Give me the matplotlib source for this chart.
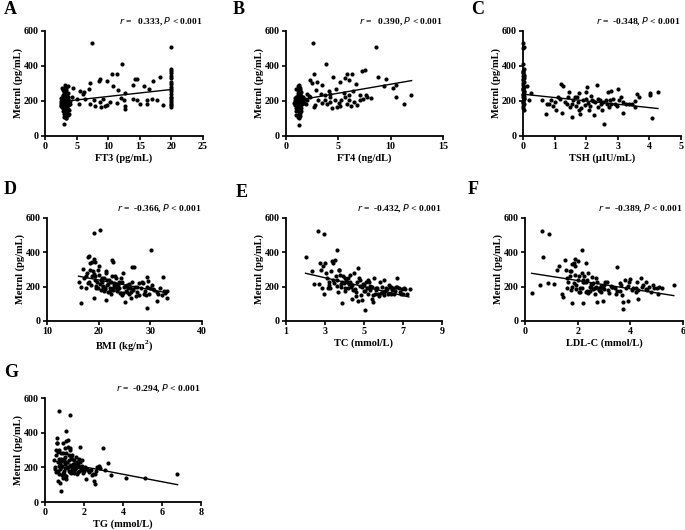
import matplotlib
matplotlib.use("Agg")
import matplotlib.pyplot as plt
import numpy as np

# ---------------- data ----------------
ft3 = [2.5,2.6,2.7,2.8,2.9,3.0,3.1,3.2,3.3,3.4,
       3.5,3.6,2.6,2.7,2.8,2.9,3.0,3.1,3.2,3.3,
       3.4,3.5,3.6,3.7,2.9,3.0,3.1,3.2,3.3,3.4,
       3.5,3.6,3.7,3.8,2.7,2.8,3.0,3.1,3.2,3.3,
       3.4,3.5,3.6,3.8,3.9,3.0,3.2,3.4,3.1,3.3,
       3.5,3.7,3.05,2.9,3.6,3.2,2.6,3.4,3.0,3.3,
       2.5,2.8,3.1,3.5,3.7,2.9,3.2,3.4,3.6,3.0,
       4.2,4.5,5.5,6.2,7.0,7.1,7.5,8.5,8.7,9.8,
       10.6,11.4,12.2,14.3,14.5,17.1,18.2,11.5,12.7,14.0,
       15.6,16.5,10.7,17.7,18.7,16.1,14.6,15.0,13.9,12.5,
       12.7,12.7,12.0,10.3,9.8,8.7,8.8,9.2,7.7,7.1,
       5.4,6.3,7.9,11.4,16.1,16.9,4.0,5.0,6.0,9.5,
       20,20,20,20,20,20,20,20,20,20,20,20,20,20,20,20,20,20,20]
metrnl_a = [190,175,275,205,160,250,185,290,215,140,
            230,120,200,185,230,265,195,170,240,180,
            205,160,285,195,215,150,225,130,260,100,
            210,175,220,150,165,145,110,200,190,155,
            245,185,200,125,180,270,210,275,235,195,
            120,245,71,180,155,165,215,230,220,105,
            170,190,255,140,175,235,280,190,205,125,
            224,277,258,252,266,300,529,315,323,317,
            354,354,411,323,327,317,336,264,245,289,
            285,269,285,206,176,203,204,182,212,208,
            170,157,216,195,176,195,166,214,204,185,
            185,214,170,189,182,212,200,210,240,170,
            506,380,370,360,345,330,310,295,280,270,255,240,225,215,205,195,185,175,165]

ft4 = [0.8,0.9,1.0,1.1,1.2,1.3,1.4,1.5,1.0,1.1,
       1.2,1.3,1.4,0.9,1.0,1.1,1.2,1.3,1.4,1.5,
       1.6,1.0,1.1,1.2,1.3,1.2,1.1,1.0,1.3,1.4,
       1.2,1.1,1.0,0.9,1.2,1.3,1.4,1.5,1.1,1.2,
       1.3,1.0,1.2,1.1,1.4,1.3,1.2,1.0,1.1,1.5,
       1.3,1.2,1.25,1.1,1.0,1.3,1.4,1.2,1.6,1.7,
       2.57,8.6,3.84,5.8,2.63,6.3,7.3,7.5,8.75,9.6,
       4.5,6.0,5.6,5.2,2.25,2.5,3.0,2.9,3.4,4.1,
       4.2,4.8,5.5,6.4,6.7,7.1,7.6,8.1,10.2,10.5,
       10.5,11.9,11.3,9.4,2.8,3.1,3.4,3.7,3.9,4.2,
       4.4,4.7,4.85,5.1,5.3,5.6,5.8,6.0,6.2,6.5,
       6.75,7.1,7.4,7.7,4.2,3.7,3.3,2.7,5.2,6.05,
       2.3,2.05,1.9,2.0,1.8,2.2]
metrnl_b = [190,200,210,180,220,240,195,205,270,285,
            290,260,230,175,160,150,140,165,185,215,
            200,120,110,100,130,250,245,225,275,205,
            195,185,175,215,155,170,145,180,235,265,
            225,195,205,215,250,115,125,140,260,190,
            185,170,65,230,210,200,160,280,220,190,
            529,506,411,354,354,357,373,376,338,323,
            338,319,334,310,319,300,310,262,290,258,
            239,266,243,258,296,233,233,218,277,290,
            224,237,180,285,176,204,189,208,185,195,
            162,208,166,189,204,220,182,204,170,195,
            176,204,212,220,220,233,239,166,170,237,
            224,204,180,240,210,230]

tsh = [0.0,0.02,0.01,0.0,0.03,0.01,0.0,0.02,0.01,0.03,
       0.0,0.02,0.01,0.0,0.03,0.01,0.0,0.02,0.01,0.03,
       0.0,0.02,0.01,0.0,0.03,0.01,0.0,0.02,0.01,0.03,
       0.0,0.02,0.01,0.0,0.03,0.01,
       0.6,0.74,0.77,0.9,1.0,1.06,1.1,1.17,1.22,1.2,
       1.25,1.32,1.38,1.43,1.48,1.54,1.59,1.64,1.67,1.73,
       1.77,1.8,1.85,1.9,1.96,2.0,2.04,2.09,2.15,2.19,
       2.26,2.28,2.33,2.38,2.44,2.49,2.54,2.57,2.62,2.68,
       2.72,2.8,2.86,2.91,3.0,3.04,3.1,3.15,3.18,3.25,
       3.34,3.44,3.53,3.6,3.68,4.03,4.03,4.08,4.27,0.82,
       0.95,1.46,1.56,1.71,1.78,1.98,2.07,2.12,2.22,2.36,
       2.46,2.65,2.75,2.96,3.55,2.8,0.14,0.18,0.24]
metrnl_c = [530,510,500,410,380,370,360,350,340,330,
            320,310,300,290,280,270,260,250,240,230,
            220,210,200,190,180,170,160,150,275,255,
            235,215,195,325,345,365,
            208,124,185,204,195,147,224,214,132,296,
            285,195,182,224,166,109,204,220,170,193,
            243,128,162,204,176,214,281,147,227,204,
            118,195,289,166,208,147,195,71,208,250,
            166,258,214,185,271,204,224,132,195,182,
            182,182,166,239,224,233,247,105,250,185,
            170,250,185,220,147,252,189,170,199,212,
            182,185,204,170,201,185,285,204,243]

bmi = [19.1,20.3,30.2,18.0,18.2,19.0,19.3,22.5,22.8,17.0,
       26.4,26.8,32.5,29.3,16.6,19.1,21.4,25.1,29.3,31.2,
       33.3,16.2,16.5,17.2,17.5,17.8,18.1,18.3,18.5,18.7,
       18.9,19.2,19.4,19.6,19.8,20.0,20.2,20.4,20.6,20.8,
       21.0,21.2,21.4,21.6,21.8,22.0,22.2,22.4,22.6,22.8,
       23.0,23.2,23.4,23.6,23.8,24.0,24.3,24.6,24.9,25.2,
       25.5,25.8,26.1,26.4,26.7,27.0,27.4,27.8,28.2,28.6,
       29.0,29.4,29.8,30.3,30.8,31.3,31.8,32.3,32.8,33.2,
       17.6,18.4,19.0,19.5,20.1,20.7,21.1,21.5,21.9,22.3,
       22.7,23.1,23.5,23.9,24.4,24.8,25.3,25.9,26.5,27.2,
       27.9,28.8,29.6,30.5,31.5,32.6,18.8,19.9,20.9,21.7,
       22.5,23.3,24.1,24.7,25.6,26.3,27.5,28.4,29.2,30.0,
       17.9,19.3,20.5,21.3,22.1,22.9,23.7,24.5,25.4,26.2]
metrnl_d = [513,532,416,370,381,364,344,354,344,304,
            315,312,257,254,106,132,122,108,74,118,
            132,230,200,250,195,280,230,340,210,260,
            290,240,205,225,195,270,215,180,230,200,
            250,185,280,210,170,240,195,230,265,180,
            220,200,250,175,210,190,165,230,200,175,
            210,160,195,225,180,200,170,150,190,220,
            175,200,160,210,180,170,195,150,165,175,
            265,300,275,190,320,250,175,290,215,160,
            195,265,180,230,250,165,205,215,185,145,
            220,160,235,185,160,175,345,300,205,240,
            185,215,165,280,190,170,200,230,150,190,
            220,260,240,195,175,210,190,150,170,135]

tc = [2.65,2.96,3.63,2.02,2.31,2.45,2.7,2.95,3.85,5.04,
      5.47,4.7,6.7,7.35,7.2,2.9,3.1,3.3,3.5,3.7,
      3.9,4.1,4.3,4.5,4.7,4.9,5.1,5.3,5.5,5.7,
      5.9,6.1,6.3,6.5,6.7,6.9,7.1,3.0,3.2,3.4,
      3.6,3.8,4.0,4.2,4.4,4.6,4.8,5.0,5.2,5.4,
      5.6,5.8,6.0,6.2,6.4,6.6,6.8,7.0,2.8,3.05,
      3.25,3.45,3.65,3.85,4.05,4.25,4.45,4.65,4.85,5.05,
      5.25,5.45,5.65,5.85,6.05,6.25,6.45,6.65,6.85,7.05,
      2.75,3.15,3.55,3.95,4.35,4.75,5.15,5.55,5.95,6.35,
      3.35,3.75,4.15,4.55,4.95,5.35,5.75,6.15,6.55,6.95,
      2.85,3.2,3.6,4.0,4.4,4.8,5.2,5.6,6.0,6.4,
      3.4,3.8,4.2,4.6,5.0,5.4,3.7,4.3,4.9,5.3]
metrnl_e = [527,508,412,373,292,215,215,158,104,65,
            110,119,250,186,158,320,250,290,355,300,
            260,240,230,280,310,200,230,180,250,160,
            200,175,210,190,200,160,185,335,210,340,
            240,200,250,190,210,170,240,210,160,200,
            190,230,170,185,200,175,195,160,300,280,
            190,220,170,230,190,215,180,230,150,175,
            225,150,195,165,240,160,180,200,170,190,
            335,190,260,220,200,250,190,160,170,200,
            350,270,230,185,215,200,145,195,160,185,
            195,230,205,175,130,205,240,180,150,160,
            240,215,250,145,175,130,300,270,120,205]

ldl = [0.63,0.93,0.7,0.28,0.57,0.89,2.16,3.49,3.74,5.65,
       1.78,2.2,2.73,2.98,3.74,4.29,3.9,1.1,1.2,1.3,
       1.4,1.5,1.6,1.7,1.8,1.9,2.0,2.1,2.2,2.3,
       2.4,2.5,2.6,2.7,2.8,2.9,3.0,3.1,3.2,3.3,
       3.4,3.5,3.6,3.7,3.8,3.9,4.0,4.1,4.2,4.3,
       4.4,4.5,4.6,4.7,4.8,4.9,5.0,5.1,5.2,1.45,
       1.55,1.65,1.75,1.85,1.95,2.05,2.15,2.25,2.35,2.45,
       2.55,2.65,2.75,2.85,2.95,3.05,3.15,3.25,3.45,3.65,
       3.85,4.05,4.25,4.45,4.65,4.85,5.05,1.7,1.8,1.9,
       2.0,2.1,2.2,2.3,2.4,2.5,2.6,2.7,2.8,2.9,
       1.75,1.85,1.95,2.05,2.15,2.25,2.35,2.45,2.55,2.65,
       3.0,3.3,3.6,3.95,4.2,4.6,1.6,1.9,2.3,2.8]
metrnl_f = [527,508,374,163,211,220,412,312,67,211,
            105,105,109,115,109,128,115,215,295,320,
            160,355,250,290,330,360,240,190,240,230,
            280,200,220,250,180,205,210,230,165,200,
            190,175,220,150,240,205,245,190,170,180,
            250,210,185,200,170,190,190,200,195,140,
            300,230,180,340,210,170,280,260,175,200,
            255,160,230,175,190,225,180,205,160,210,
            190,180,230,200,180,210,160,260,200,320,
            350,170,225,340,165,215,185,200,185,170,
            290,220,185,260,190,225,240,175,215,190,
            185,200,175,230,190,230,190,270,170,190]

tg = [0.74,1.28,1.06,2.95,3.25,4.16,5.14,6.76,0.8,0.68,
      0.77,2.53,2.57,2.1,3.39,3.08,2.83,0.45,0.5,0.55,
      0.6,0.65,0.7,0.75,0.8,0.85,0.9,0.95,1.0,1.05,
      1.1,1.15,1.2,1.25,1.3,1.35,1.4,1.45,1.5,1.55,
      1.6,1.65,1.7,1.75,1.8,1.85,1.9,1.95,2.0,2.05,
      2.15,2.25,2.35,2.45,2.55,2.65,2.75,0.5,0.6,0.7,
      0.8,0.9,1.0,1.1,1.2,1.3,1.4,1.5,1.6,1.7,
      1.8,1.9,2.0,0.55,0.65,0.75,0.85,0.95,1.05,1.15,
      1.25,1.35,1.45,1.55,1.65,1.75,1.85,0.62,0.72,0.82,
      0.92,1.02,1.12,1.22,1.32,1.42,1.52,1.62,1.72,1.82,
      0.58,0.68,0.78,0.88,0.98,1.08,1.18,1.28,1.38,1.48,
      0.7,0.9,1.1,1.3,1.5,1.7,1.9,2.2,2.4,2.6]
metrnl_g = [523,504,408,312,225,138,138,162,65,119,
            110,119,104,135,154,187,196,240,200,270,
            370,230,300,190,250,210,340,180,260,220,
            350,195,320,240,300,180,270,210,240,190,
            260,200,230,180,320,200,210,170,195,200,
            190,175,185,160,160,200,205,190,340,250,
            200,280,230,150,360,210,250,180,205,175,
            230,190,180,175,290,220,240,160,310,200,
            180,260,220,195,230,250,185,340,210,280,
            165,195,230,270,170,205,220,160,240,200,
            300,180,230,155,250,135,200,310,190,165,
            160,140,285,175,220,215,240,185,155,180]

# regression lines: (slope, intercept, x_start, x_end)
fit_a = (3.99, 186, 3.0, 20.0)
fit_b = (10.3, 193, 0.8, 12.0)
fit_c = (-19.2, 239, 0.0, 4.27)
fit_d = (-5.65, 352, 16.1, 33.3)
fit_e = (-26.0, 330, 2.0, 7.3)
fit_f = (-24.1, 284, 0.25, 5.65)
fit_g = (-21.5, 246, 0.45, 6.8)

r_values = ["0.333", "0.390", "-0.348", "-0.366", "-0.432", "-0.389", "-0.294"]
letters = ["A", "B", "C", "D", "E", "F", "G"]
xlabels = ["FT3 (pg/mL)", "FT4 (ng/dL)", "TSH (\u03bcIU/mL)", "BMI (kg/m$^\\mathbf{2}$)",
           "TC (mmol/L)", "LDL-C (mmol/L)", "TG (mmol/L)"]
xticks = [[0, 5, 10, 15, 20, 25], [0, 5, 10, 15], [0, 1, 2, 3, 4, 5],
          [10, 20, 30, 40], [1, 3, 5, 7, 9], [0, 2, 4, 6], [0, 2, 4, 6, 8]]
yticks = [0, 200, 400, 600]

# ---------------- layout ----------------
plt.rcParams['font.family'] = ['Liberation Serif', 'DejaVu Serif']
plt.rcParams['mathtext.fontset'] = 'custom'
plt.rcParams['mathtext.rm'] = 'Liberation Serif'
plt.rcParams['mathtext.bf'] = 'Liberation Serif:bold'

W, H = 685, 530
fig = plt.figure(figsize=(W / 100, H / 100), dpi=100)

# axes boxes in pixels: left, top, right, bottom
boxes = [(45, 31, 203, 136), (286, 31, 443, 136), (523, 31, 681, 136),
         (47, 218, 202, 321), (286, 218, 442, 321), (525, 218, 683, 321),
         (45, 398, 201, 502)]
letter_pos = [(4, 1), (233, 1), (471, 1), (4, 181), (236, 184), (468, 181), (4, 364)]

datasets = [(ft3, metrnl_a, fit_a), (ft4, metrnl_b, fit_b), (tsh, metrnl_c, fit_c),
            (bmi, metrnl_d, fit_d), (tc, metrnl_e, fit_e), (ldl, metrnl_f, fit_f),
            (tg, metrnl_g, fit_g)]

for i, (box, (xs, ys, fit)) in enumerate(zip(boxes, datasets)):
    l, t, r, b = box
    ax = fig.add_axes([l / W, 1 - b / H, (r - l) / W, (b - t) / H])
    ax.scatter(xs, ys, s=9, color='black', linewidths=0, zorder=3, clip_on=False)
    slope, icpt, x0, x1 = fit
    lx = np.array([x0, x1])
    ax.plot(lx, slope * lx + icpt, color='black', lw=1.0, zorder=4)
    ax.set_xlim(xticks[i][0], xticks[i][-1])
    ax.set_ylim(0, 600)
    ax.set_xticks(xticks[i])
    ax.set_yticks(yticks)
    for s in ['top', 'right']:
        ax.spines[s].set_visible(False)
    for s in ['left', 'bottom']:
        ax.spines[s].set_linewidth(1.3)
    ax.tick_params(direction='out', length=3, width=1.2, labelsize=7.2, pad=1.5)
    for lab in ax.get_xticklabels() + ax.get_yticklabels():
        lab.set_fontweight('bold')
    ax.set_xlabel(xlabels[i], fontsize=7.5, fontweight='bold', labelpad=1.5)
    ax.set_ylabel("Metrnl (pg/mL)", fontsize=7.5, fontweight='bold', labelpad=0.5)
    rv = r_values[i]
    ax.text(1.0, 1.03, r"$\mathit{r}$ = " + ("  " if not rv.startswith('-') else " ") + rv +
            r", $\mathit{P}$ < 0.001", transform=ax.transAxes, ha='right', va='bottom',
            fontsize=6.8, fontweight='bold')
    fig.text(letter_pos[i][0] / W, 1 - letter_pos[i][1] / H, letters[i],
             fontsize=13, fontweight='bold', ha='left', va='top')

fig.savefig("out.png", dpi=100)
